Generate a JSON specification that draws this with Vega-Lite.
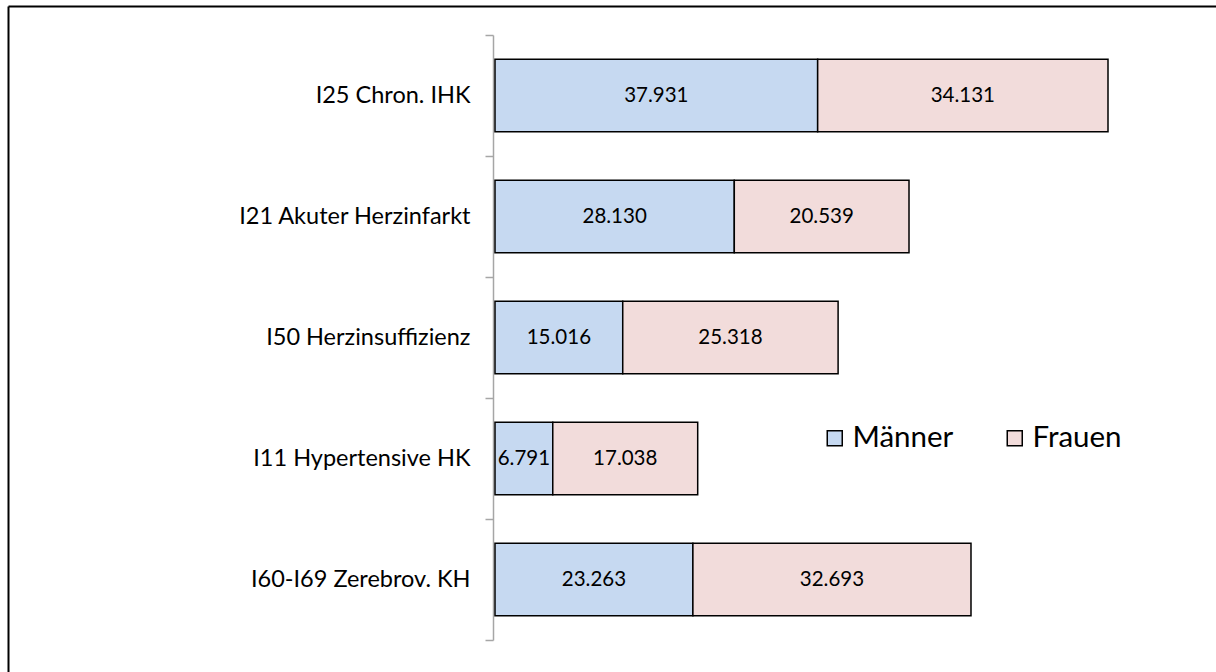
{
  "$schema": "https://vega.github.io/schema/vega-lite/v6.json",
  "width": 1208,
  "height": 666,
  "autosize": "none",
  "padding": {"left": 8, "top": 6, "right": 0, "bottom": 0},
  "background": "white",
  "config": {
    "view": {"stroke": null},
    "font": "Lato",
    "locale": {"number": {"decimal": ",", "thousands": ".", "grouping": [3], "currency": ["", " €"]}}
  },
  "data": {
    "values": [
      {"Diagnose": "I25 Chron. IHK", "Geschlecht": "Männer", "Anzahl": 37931},
      {"Diagnose": "I25 Chron. IHK", "Geschlecht": "Frauen", "Anzahl": 34131},
      {"Diagnose": "I21 Akuter Herzinfarkt", "Geschlecht": "Männer", "Anzahl": 28130},
      {"Diagnose": "I21 Akuter Herzinfarkt", "Geschlecht": "Frauen", "Anzahl": 20539},
      {"Diagnose": "I50 Herzinsuffizienz", "Geschlecht": "Männer", "Anzahl": 15016},
      {"Diagnose": "I50 Herzinsuffizienz", "Geschlecht": "Frauen", "Anzahl": 25318},
      {"Diagnose": "I11 Hypertensive HK", "Geschlecht": "Männer", "Anzahl": 6791},
      {"Diagnose": "I11 Hypertensive HK", "Geschlecht": "Frauen", "Anzahl": 17038},
      {"Diagnose": "I60-I69 Zerebrov. KH", "Geschlecht": "Männer", "Anzahl": 23263},
      {"Diagnose": "I60-I69 Zerebrov. KH", "Geschlecht": "Frauen", "Anzahl": 32693}
    ]
  },
  "layer": [
    {
      "mark": {"type": "point", "opacity": 0},
      "encoding": {
        "x": {"field": "Anzahl", "type": "quantitative",
              "axis": {"orient": "top", "domainColor": "black", "domainWidth": 2, "ticks": false, "labels": false, "grid": false, "title": null}},
        "y": {"field": "Anzahl", "type": "quantitative",
              "axis": {"orient": "left", "domainColor": "black", "domainWidth": 2, "ticks": false, "labels": false, "grid": false, "title": null}}
      }
    },
    {
      "encoding": {
        "y": {
          "field": "Diagnose", "type": "nominal", "sort": null,
          "scale": {"range": [29, 634], "paddingInner": 0, "paddingOuter": 0},
          "axis": {
            "orient": "left", "offset": -485, "title": null,
            "domainColor": "#a6a6a6", "domainWidth": 1.5,
            "tickColor": "#a6a6a6", "tickWidth": 1.5, "tickSize": 8, "tickBand": "extent",
            "labelFont": "Lato", "labelFontSize": 23.5, "labelColor": "black", "labelPadding": 15, "labelLimit": 0
          }
        }
      },
      "layer": [
        {
          "mark": {"type": "bar", "stroke": "black", "strokeWidth": 1.5, "height": {"band": 0.6}},
          "encoding": {
            "x": {"field": "Anzahl", "type": "quantitative", "stack": "zero",
                  "scale": {"domain": [0, 72062], "range": [487, 1100], "nice": false, "zero": true}, "axis": null},
            "order": {"field": "Geschlecht", "sort": "descending"},
            "color": {
              "field": "Geschlecht", "type": "nominal",
              "scale": {"domain": ["Männer", "Frauen"], "range": ["#c6d9f1", "#f2dcdb"]},
              "legend": {
                "title": null, "orient": "none", "legendX": 812, "legendY": 417, "direction": "horizontal",
                "symbolType": "square", "symbolSize": 225, "symbolStrokeColor": "black", "symbolStrokeWidth": 1.5,
                "symbolOpacity": 1,
                "labelFont": "Lato", "labelFontSize": 29.5, "labelColor": "black", "labelOffset": 3,
                "columnPadding": 46, "padding": 0
              }
            }
          }
        },
        {
          "transform": [
            {"stack": "Anzahl", "groupby": ["Diagnose"], "sort": [{"field": "Geschlecht", "order": "descending"}], "as": ["x0", "x1"]},
            {"calculate": "(datum.x0 + datum.x1) / 2", "as": "mitte"}
          ],
          "mark": {"type": "text", "font": "Lato", "fontSize": 20.5, "color": "black", "baseline": "middle", "align": "center"},
          "encoding": {
            "x": {"field": "mitte", "type": "quantitative"},
            "text": {"field": "Anzahl", "type": "quantitative", "format": ",.0f"}
          }
        }
      ]
    }
  ],
  "resolve": {"scale": {"x": "independent", "y": "independent"}}
}
